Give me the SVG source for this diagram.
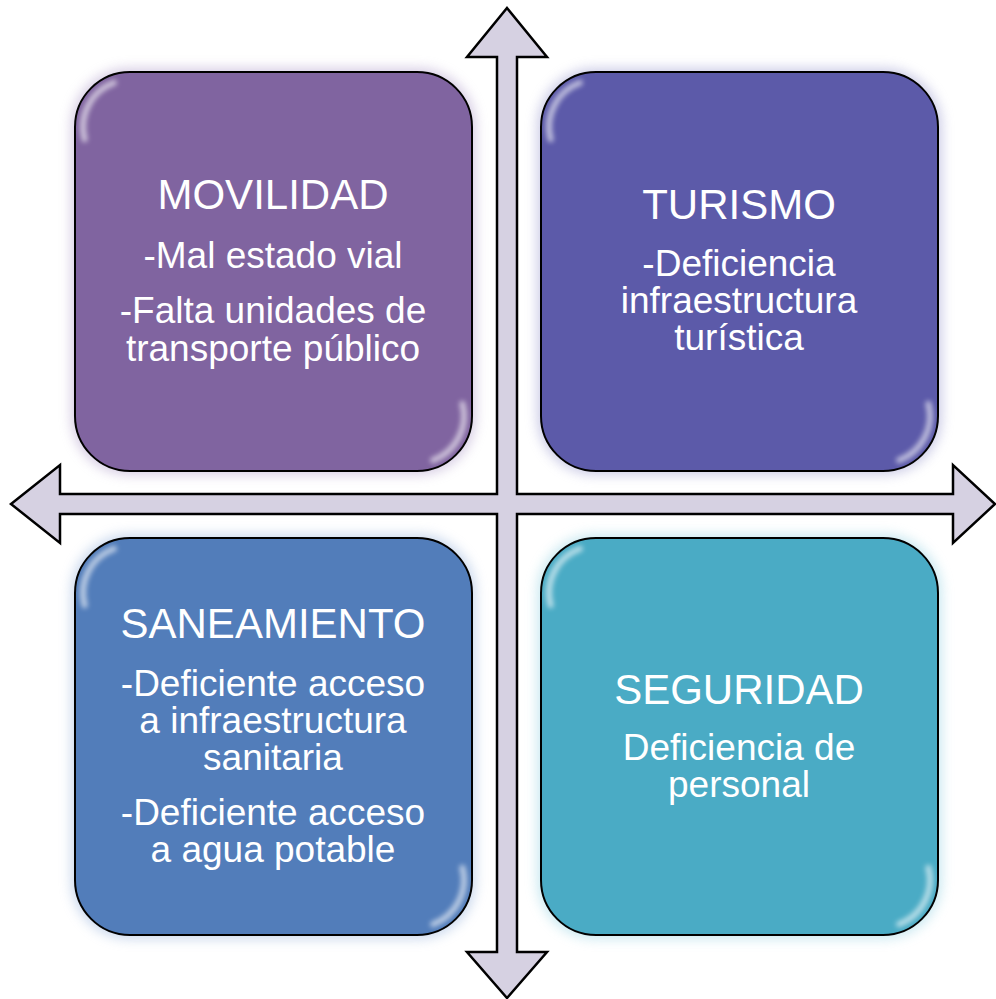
<svg xmlns="http://www.w3.org/2000/svg" width="996" height="999" viewBox="0 0 996 999">
<style>
.box{stroke:#000;stroke-width:2}
.glow{opacity:0.55}
.t{font-family:"Liberation Sans",Arial,sans-serif;fill:#fff;text-anchor:middle}
.h{font-size:42px}
.b{font-size:37px}
.hl{fill:none;stroke:#fff;stroke-width:6;stroke-linecap:round;opacity:0.6}
.arrow{fill:#D6D1E2;stroke:#000;stroke-width:2.5;stroke-linejoin:miter}
</style>
<defs>
<filter id="blur" x="-10%" y="-10%" width="120%" height="120%"><feGaussianBlur stdDeviation="6"/></filter>
<filter id="soft" x="-30%" y="-30%" width="160%" height="160%"><feGaussianBlur stdDeviation="2.5"/></filter>
</defs>
<rect width="996" height="999" fill="#fff"/>
<g id="connectors">
<path class="arrow" d="M507,8 L547,57 L517,57 L517,494 L953,494 L953,465 L995,504 L953,543 L953,514 L517,514 L517,952 L547,952 L507,998 L467,952 L497,952 L497,514 L60,514 L60,543 L11,504 L60,465 L60,494 L497,494 L497,57 L467,57 Z"/>
</g>
<g id="movilidad">
<rect class="glow" x="71" y="68" width="405" height="407" rx="58" fill="#B7A6CF" filter="url(#blur)"/>
<rect class="box" x="75" y="72" width="397" height="399" rx="55" fill="#8064A0"/>
<path class="hl" d="M84.6,139.2 A47,47 0 0 1 113.9,82.8" filter="url(#soft)"/>
<path class="hl" d="M462.4,403.8 A47,47 0 0 1 433.1,460.2" filter="url(#soft)"/>
<text class="t h" x="273" y="209">MOVILIDAD</text>
<text class="t b" x="273" y="268">-Mal estado vial</text>
<text class="t b" x="273" y="323">-Falta unidades de</text>
<text class="t b" x="273" y="361">transporte público</text>
</g>
<g id="turismo">
<rect class="glow" x="537" y="68" width="405" height="407" rx="58" fill="#A6A6D4" filter="url(#blur)"/>
<rect class="box" x="541" y="72" width="397" height="399" rx="55" fill="#5C5AA9"/>
<path class="hl" d="M550.6,139.2 A47,47 0 0 1 579.9,82.8" filter="url(#soft)"/>
<path class="hl" d="M928.4,403.8 A47,47 0 0 1 899.1,460.2" filter="url(#soft)"/>
<text class="t h" x="739" y="219">TURISMO</text>
<text class="t b" x="739" y="276">-Deficiencia</text>
<text class="t b" x="739" y="313">infraestructura</text>
<text class="t b" x="739" y="350">turística</text>
</g>
<g id="saneamiento">
<rect class="glow" x="71" y="534" width="405" height="405" rx="58" fill="#A3BBE0" filter="url(#blur)"/>
<rect class="box" x="75" y="538" width="397" height="397" rx="55" fill="#527DBA"/>
<path class="hl" d="M84.6,605.2 A47,47 0 0 1 113.9,548.8" filter="url(#soft)"/>
<path class="hl" d="M462.4,867.8 A47,47 0 0 1 433.1,924.2" filter="url(#soft)"/>
<text class="t h" x="273" y="638">SANEAMIENTO</text>
<text class="t b" x="273" y="696">-Deficiente acceso</text>
<text class="t b" x="273" y="733">a infraestructura</text>
<text class="t b" x="273" y="770">sanitaria</text>
<text class="t b" x="273" y="825">-Deficiente acceso</text>
<text class="t b" x="273" y="862">a agua potable</text>
</g>
<g id="seguridad">
<rect class="glow" x="537" y="534" width="405" height="405" rx="58" fill="#A2D8E6" filter="url(#blur)"/>
<rect class="box" x="541" y="538" width="397" height="397" rx="55" fill="#4AABC5"/>
<path class="hl" d="M550.6,605.2 A47,47 0 0 1 579.9,548.8" filter="url(#soft)"/>
<path class="hl" d="M928.4,867.8 A47,47 0 0 1 899.1,924.2" filter="url(#soft)"/>
<text class="t h" x="739" y="704">SEGURIDAD</text>
<text class="t b" x="739" y="760">Deficiencia de</text>
<text class="t b" x="739" y="797">personal</text>
</g>
</svg>
